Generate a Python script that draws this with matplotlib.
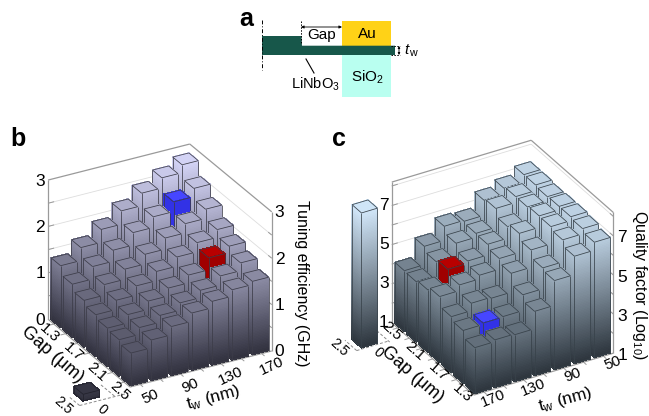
import numpy as np
import matplotlib
matplotlib.use("Agg")
import matplotlib.pyplot as plt
from matplotlib.colors import LinearSegmentedColormap
from matplotlib.patches import Rectangle, Polygon
from mpl_toolkits.mplot3d import proj3d
from mpl_toolkits.mplot3d.art3d import Poly3DCollection, Line3DCollection

plt.rcParams['font.family'] = ['Liberation Sans', 'DejaVu Sans']
plt.rcParams['mathtext.fontset'] = 'custom'
plt.rcParams['mathtext.rm'] = 'Liberation Sans'
plt.rcParams['mathtext.it'] = 'Liberation Sans:italic'
plt.rcParams['mathtext.default'] = 'regular'

# data, rows = gap, columns = top film thickness
gaps = [1.3, 1.5, 1.7, 1.9, 2.1, 2.3, 2.5]
tws = [50, 70, 90, 110, 130, 150, 170]
gap_ticks = [1.3, 1.7, 2.1, 2.5]
tw_ticks = [50, 90, 130, 170]

tuning = [[1.33, 1.61, 1.89, 2.18, 2.45, 2.67, 2.84],
          [1.14, 1.41, 1.65, 1.92, 2.15, 2.36, 2.54],
          [1.00, 1.23, 1.45, 1.66, 1.90, 2.10, 2.30],
          [0.90, 1.10, 1.30, 1.50, 1.70, 1.90, 2.07],
          [0.82, 1.00, 1.18, 1.35, 1.52, 1.78, 1.92],
          [0.78, 0.93, 1.08, 1.24, 1.40, 1.60, 1.77],
          [0.70, 0.87, 1.05, 1.23, 1.37, 1.51, 1.58]]
quality = [[6.90, 6.49, 5.55, 4.28, 3.39, 3.43, 3.34],
           [7.07, 6.80, 5.67, 4.60, 3.79, 3.76, 3.69],
           [7.15, 6.95, 6.06, 5.17, 4.20, 4.25, 3.87],
           [7.15, 6.97, 6.38, 5.40, 4.85, 4.66, 4.37],
           [7.12, 6.90, 6.20, 5.60, 5.05, 4.93, 4.18],
           [7.19, 6.90, 6.60, 5.63, 5.43, 4.80, 4.08],
           [7.19, 6.80, 6.49, 5.72, 5.77, 5.05, 4.11]]
bare_tuning = 0.14
bare_quality = 7.9
blue_cell = (1, 5)
red_cell = (4, 5)

cmap_b = LinearSegmentedColormap.from_list('b', ['#2f2f3c', '#dcdcff'])
cmap_c = LinearSegmentedColormap.from_list('c', ['#2b333b', '#d6ecff'])
BLUE = ('#4646ff', '#3232e6')
RED = ('#b80000', '#a00000')
W = 0.8
fig = plt.figure(figsize=(6.49, 4.16), dpi=100)


def to_px(ax, x, y, z):
    X, Y, _ = proj3d.proj_transform(x, y, z, ax.get_proj())
    return ax.transData.transform((X, Y))


def fit_axes(ax, aspect, left, front, right, px_left, px_front, px_right):
    # scale and move the 3d box so its floor corners land where they should
    ax.set_box_aspect(aspect, zoom=1)
    fig.canvas.draw()
    p0, p1 = to_px(ax, *left), to_px(ax, *right)
    ax.set_box_aspect(aspect, zoom=(px_right[0] - px_left[0]) / (p1[0] - p0[0]))
    fig.canvas.draw()
    p = to_px(ax, *front)
    pos = ax.get_position()
    ax.set_position([pos.x0 + (px_front[0] - p[0]) / 649,
                     pos.y0 + (416 - px_front[1] - p[1]) / 416, pos.width, pos.height])
    fig.canvas.draw()


def draw_bar(ax, gap, tw, h, base, top_scale, cmap, near, order, solid=None, edge='#3c3c44'):
    dx, dy = W * 0.1, W * 10
    xn, xf = (gap + dx, gap - dx) if near[0] > 0 else (gap - dx, gap + dx)
    yn, yf = (tw + dy, tw - dy) if near[1] > 0 else (tw - dy, tw + dy)
    zs = np.linspace(base, h, int(max(2, (h - base) / (top_scale - base) * 90)) + 1)
    polys, cols = [], []
    for z0, z1 in zip(zs[:-1], zs[1:]):
        polys.append([(xn, yn, z0), (xn, yf, z0), (xn, yf, z1), (xn, yn, z1)])
        polys.append([(xn, yn, z0), (xf, yn, z0), (xf, yn, z1), (xn, yn, z1)])
        c = solid[1] if solid else cmap((0.5 * (z0 + z1) - base) / (top_scale - base))
        cols += [c, c]
    polys.append([(xn, yn, h), (xf, yn, h), (xf, yf, h), (xn, yf, h)])
    cols.append(solid[0] if solid else cmap((h - base) / (top_scale - base)))
    col = Poly3DCollection(polys, facecolors=cols, edgecolors=cols, linewidths=0.4, antialiased=False)
    col.set_zorder(order)
    ax.add_collection3d(col, autolim=False)
    segs = [[(xn, yn, base), (xn, yn, h)], [(xn, yf, base), (xn, yf, h)], [(xf, yn, base), (xf, yn, h)],
            [(xn, yn, h), (xf, yn, h)], [(xf, yn, h), (xf, yf, h)], [(xf, yf, h), (xn, yf, h)],
            [(xn, yf, h), (xn, yn, h)], [(xn, yn, base), (xn, yf, base)], [(xn, yn, base), (xf, yn, base)]]
    lines = Line3DCollection(segs, colors=edge, linewidths=0.55)
    lines.set_zorder(order + 0.5)
    ax.add_collection3d(lines, autolim=False)


def label(ax, x, y, z, s, off, rot=0, ha='center', va='center', size=11):
    X, Y, _ = proj3d.proj_transform(x, y, z, ax.get_proj())
    ax.annotate(s, (X, Y), xytext=off, textcoords='offset pixels', ha=ha, va=va,
                rotation=rot, rotation_mode='anchor', fontsize=size,
                annotation_clip=False, zorder=2000)


def draw_panel(ax, values, zmin, zmax, zminor, near, cmap, edge):
    # near = +1/-1 tells which side of gap and tw faces the viewer
    gmin, gmax, tmin, tmax = 1.2, 2.6, 40, 180
    gn, gf = (gmax, gmin) if near[0] > 0 else (gmin, gmax)
    tn, tf = (tmax, tmin) if near[1] > 0 else (tmin, tmax)
    gray = '#9a9a9a'
    # back walls and floor edge
    box = [[(gf, tn, zmin), (gf, tn, zmax)], [(gf, tn, zmax), (gf, tf, zmax)], [(gf, tf, zmax), (gn, tf, zmax)],
           [(gn, tf, zmax), (gn, tf, zmin)], [(gf, tn, zmin), (gn, tn, zmin)], [(gn, tn, zmin), (gn, tf, zmin)]]
    grid = []
    for z in zminor:
        grid += [[(gf, tn, z), (gf, tf, z)], [(gf, tf, z), (gn, tf, z)]]
    g = Line3DCollection(grid, colors='#dddddd', linewidths=0.6)
    g.set_zorder(-3)
    ax.add_collection3d(g, autolim=False)
    b = Line3DCollection(box, colors=gray, linewidths=0.9)
    b.set_zorder(-2)
    ax.add_collection3d(b, autolim=False)
    # floor ticks and the short ticks on the two upright axes
    sign_t = 1 if near[1] > 0 else -1
    sign_g = 1 if near[0] > 0 else -1
    tk = [[(g_, tn, zmin), (g_, tn + sign_t * 5, zmin)] for g_ in gaps]
    tk += [[(gn, t_, zmin), (gn + sign_g * 0.05, t_, zmin)] for t_ in tws]
    for z in zminor:
        tk += [[(gf, tn, z), (gf, tn - sign_t * 6, z)], [(gn, tf, z), (gn - sign_g * 0.06, tf, z)]]
    t = Line3DCollection(tk, colors=gray, linewidths=0.7)
    t.set_zorder(-2)
    ax.add_collection3d(t, autolim=False)
    # bars far to near
    cells = sorted(((i, j) for i in range(7) for j in range(7)),
                   key=lambda c: near[0] * c[0] + near[1] * c[1])
    for k, (i, j) in enumerate(cells):
        solid = BLUE if (i, j) == blue_cell else RED if (i, j) == red_cell else None
        draw_bar(ax, gaps[i], tws[j], values[i][j], zmin, zmax, cmap, near, k, solid, edge)


def dashes(ax, segs):
    d = Line3DCollection(segs, colors='#8a8a8a', linewidths=0.7, linestyles=(0, (3, 2)))
    d.set_zorder(-2)
    ax.add_collection3d(d, autolim=False)


# panel a, schematic in pixel coordinates
ax0 = fig.add_axes([0, 0, 1, 1])
ax0.set_xlim(0, 649)
ax0.set_ylim(416, 0)
ax0.axis('off')
ax0.add_patch(Rectangle((342, 21), 49, 24.7, fc='#ffd217', ec='none'))
ax0.add_patch(Rectangle((342, 55), 49, 41.7, fc='#b9fff0', ec='none'))
ax0.add_patch(Polygon([(262, 36), (301.5, 36), (302, 45.7), (395, 45.7), (395, 55), (262, 55)],
                      fc='#17574a', ec='none'))
ax0.plot([261.5, 261.5], [20, 70], color='k', lw=0.7, ls=(0, (4, 2, 1, 2)))
ax0.plot([300.5, 300.5], [21, 44], color='k', lw=0.7, ls=(0, (1.5, 1.5)))
ax0.plot([391, 400], [45.7, 45.7], color='k', lw=0.7, ls=(0, (1.5, 1.5)))
ax0.plot([391, 400], [55, 55], color='k', lw=0.7, ls=(0, (1.5, 1.5)))
ax0.annotate('', (301, 27), (342, 27), arrowprops=dict(arrowstyle='<|-|>', color='k', lw=0.6,
                                                        mutation_scale=4, shrinkA=0, shrinkB=0))
ax0.annotate('', (399, 46), (399, 55), arrowprops=dict(arrowstyle='<|-|>', color='k', lw=0.6,
                                                        mutation_scale=3, shrinkA=0, shrinkB=0))
ax0.plot([306, 314], [59, 73], color='k', lw=0.8)
ax0.text(322, 35, 'Gap', ha='center', va='center', fontsize=11)
ax0.text(367, 34, 'Au', ha='center', va='center', fontsize=11)
ax0.text(367, 77, 'SiO$_2$', ha='center', va='center', fontsize=11)
ax0.text(315, 84, 'LiNbO$_3$', ha='center', va='center', fontsize=10.5)
ax0.text(404, 51, r'$\mathit{t}_{\,w}$', ha='left', va='center', fontsize=11)
ax0.text(246, 19, 'a', ha='center', va='center', fontsize=18, fontweight='bold')
ax0.text(18, 139, 'b', ha='center', va='center', fontsize=18, fontweight='bold')
ax0.text(339, 139, 'c', ha='center', va='center', fontsize=18, fontweight='bold')

# panel b
axb = fig.add_axes([-0.1, -0.2, 0.75, 1.17], projection='3d', proj_type='ortho', computed_zorder=False)
axb.set_axis_off()
axb.patch.set_visible(False)
axb.set_xlim(1.2, 2.6, view_margin=0)
axb.set_ylim(40, 180, view_margin=0)
axb.set_zlim(0, 3, view_margin=0)
axb.view_init(elev=27.3, azim=-29)
fit_axes(axb, (169, 162, 156.5), (1.2, 40, 0), (2.6, 40, 0), (2.6, 180, 0), (48.3, 320), (130, 387), (272, 351.7))
draw_panel(axb, tuning, 0, 3, [0.5, 1, 1.5, 2, 2.5], (1, -1), cmap_b, '#3c3c48')
draw_bar(axb, 2.55, 0, bare_tuning, 0, 3, cmap_b, (1, -1), 60, None, '#22222c')
dashes(axb, [[(2.69, -15, 0), (2.69, 33, 0)], [(2.69, -15, 0), (2.5, -15, 0)], [(2.45, 20, 0), (2.69, 20, 0)]])
for z in [0, 1, 2, 3]:
    label(axb, 1.2, 40, z, str(z), (-3, -1), ha='right', size=12.5)
    label(axb, 2.6, 180, z, str(z), (3, -1), ha='left', size=12.5)
for g in gap_ticks:
    label(axb, g, 40, 0, str(g), (-4, -9), rot=-42)
for t in tw_ticks:
    label(axb, 2.6, t, 0, str(t), (10, -12), rot=25)
label(axb, 2.69, 0, 0, '0', (7, -8), rot=-42, size=10)
label(axb, 2.55, -15, 0, '2.5', (-8, -7), rot=-42, size=10)

# panel c
axc = fig.add_axes([0.4, -0.2, 0.75, 1.17], projection='3d', proj_type='ortho', computed_zorder=False)
axc.set_axis_off()
axc.patch.set_visible(False)
axc.set_xlim(1.2, 2.6, view_margin=0)
axc.set_ylim(40, 180, view_margin=0)
axc.set_zlim(1, 8.2, view_margin=0)
axc.view_init(elev=30.9, azim=149.7)
fit_axes(axc, (163, 161.5, 164), (2.6, 180, 1), (1.2, 180, 1), (1.2, 40, 1), (391.7, 322.7), (474, 395), (613.3, 353.3))
draw_panel(axc, quality, 1, 8.2, [2, 3, 4, 5, 6, 7, 8], (-1, 1), cmap_c, '#38424a')
draw_bar(axc, 2.45, 216, bare_quality, 1, 8.2, cmap_c, (-1, 1), 60, None, '#38424a')
dashes(axc, [[(2.35, 230, 1), (2.35, 198, 1)], [(2.35, 230, 1), (2.55, 230, 1)], [(2.55, 198, 1), (2.33, 198, 1)]])
for z in [1, 3, 5, 7]:
    label(axc, 2.6, 180, z, str(z), (-3, 0), ha='right', size=12.5)
    label(axc, 1.2, 40, z, str(z), (4, -2), ha='left', size=12.5)
for g in gap_ticks:
    label(axc, g, 180, 1, str(g), (-6, -3), rot=-42)
for t in tw_ticks:
    label(axc, 1.2, t, 1, str(t), (9, -7), rot=22)
label(axc, 2.35, 214, 1, '0', (5, -7), rot=-42, size=10)
label(axc, 2.45, 230, 1, '2.5', (-12, -2), rot=-42, size=10)

# axis titles
fig.text(302 / 649, 1 - 283 / 416, 'Tuning efficiency (GHz)', rotation=-90, ha='center', va='center', fontsize=11.5)
fig.text(52 / 649, 1 - 355 / 416, 'Gap (\u03bcm)', rotation=-41, ha='center', va='center', fontsize=13)
fig.text(213 / 649, 1 - 398 / 416, 't$_{w}$ (nm)', rotation=15, ha='center', va='center', fontsize=12.5)
fig.text(640 / 649, 1 - 285 / 416, 'Quality factor (Log$_{10}$)', rotation=-90, ha='center', va='center', fontsize=11.5)
fig.text(412 / 649, 1 - 375 / 416, 'Gap (\u03bcm)', rotation=-41, ha='center', va='center', fontsize=13)
fig.text(565 / 649, 1 - 400 / 416, 't$_{w}$ (nm)', rotation=15, ha='center', va='center', fontsize=12.5)

fig.savefig('out.png', dpi=100)
